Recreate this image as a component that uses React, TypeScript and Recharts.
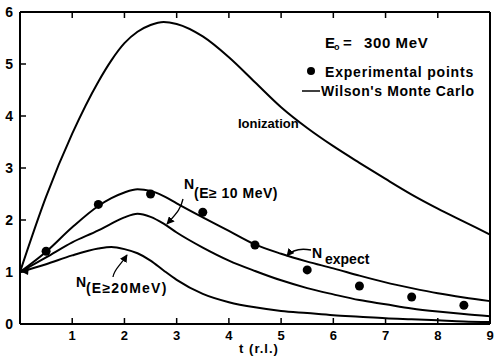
import React from 'react';
import { ComposedChart, Line, Scatter, XAxis, YAxis } from 'recharts';

// depth in radiation lengths
const T = [0, 0.5, 1, 1.5, 1.75, 2, 2.25, 2.5, 2.75, 3, 3.5, 4, 4.5, 5, 5.5, 6, 6.5, 7, 7.5, 8, 8.5, 9];
const IONIZATION = [1, 2.45, 3.66, 4.66, 5.07, 5.4, 5.62, 5.75, 5.81, 5.77, 5.53, 5.13, 4.65, 4.17, 3.77, 3.42, 3.1, 2.79, 2.49, 2.22, 1.97, 1.72];
const N_EXPECT = [1, 1.39, 1.86, 2.27, 2.42, 2.53, 2.59, 2.56, 2.46, 2.32, 2.05, 1.79, 1.53, 1.35, 1.2, 1.07, 0.93, 0.8, 0.69, 0.59, 0.51, 0.44];
const N_10 = [1, 1.28, 1.57, 1.8, 1.93, 2.05, 2.12, 2.06, 1.93, 1.76, 1.47, 1.22, 1.02, 0.84, 0.69, 0.57, 0.46, 0.38, 0.3, 0.24, 0.19, 0.15];
const N_20 = [1, 1.15, 1.32, 1.45, 1.48, 1.44, 1.36, 1.22, 1.03, 0.85, 0.58, 0.42, 0.32, 0.25, 0.21, 0.17, 0.14, 0.11, 0.09, 0.07, 0.05, 0.04];

const POINT_T = [0.5, 1.5, 2.5, 3.5, 4.5, 5.5, 6.5, 7.5, 8.5];
const POINT_N = [1.4, 2.3, 2.5, 2.15, 1.52, 1.04, 0.73, 0.52, 0.36];

const X_TICKS = [0, 1, 2, 3, 4, 5, 6, 7, 8, 9];
const Y_TICKS = [0, 1, 2, 3, 4, 5, 6];

const FONT = '"Liberation Sans", Arial, sans-serif';

const rows = T.map((t, i) => ({ t, ion: IONIZATION[i], nexp: N_EXPECT[i], n10: N_10[i], n20: N_20[i] }));
const points = POINT_T.map((t, i) => ({ t, n: POINT_N[i] }));

const LeftTick = (p: any) => {
    const v = p.payload.value;
    return (
        <g>
            {v > 0 && v < 6 && <line x1={p.x + 8} x2={p.x + 14} y1={p.y} y2={p.y} stroke="#000" strokeWidth={1.5} />}
            <text x={p.x + 1} y={p.y + 5} textAnchor="end" fontFamily={FONT} fontWeight="bold" fontSize={14} fill="#000">
                {v}
            </text>
        </g>
    );
};

const BottomTick = (p: any) => {
    const v = p.payload.value;
    if (v === 0) return <g />;
    return (
        <g>
            {v < 9 && <line x1={p.x} x2={p.x} y1={p.y - 8} y2={p.y - 14} stroke="#000" strokeWidth={1.5} />}
            <text x={p.x} y={p.y + 8} textAnchor="middle" fontFamily={FONT} fontWeight="bold" fontSize={13} fill="#000">
                {v}
            </text>
        </g>
    );
};

const TopTick = (p: any) => {
    const v = p.payload.value;
    if (v === 0 || v === 9) return <g />;
    return <line x1={p.x} x2={p.x} y1={p.y + 8} y2={p.y + 14} stroke="#000" strokeWidth={1.5} />;
};

const RightTick = (p: any) => {
    const v = p.payload.value;
    if (v === 0 || v === 6) return <g />;
    return <line x1={p.x - 8} x2={p.x - 14} y1={p.y} y2={p.y} stroke="#000" strokeWidth={1.5} />;
};

const Dot = (p: any) => <circle cx={p.cx} cy={p.cy} r={4.5} fill="#000" />;

const txt = { fontFamily: FONT, fontWeight: 'bold' as const, fill: '#000' };

const App: React.FC = () => {
    return (
        <div style={{ position: 'absolute', left: 0, top: 0, width: 494, height: 357, background: '#fff' }}>
            <ComposedChart width={494} height={357} data={rows} margin={{ top: 2, right: 0, bottom: 0, left: 0 }}>
                <XAxis dataKey="t" type="number" domain={[0, 9]} ticks={X_TICKS} height={33} tickSize={6} tickMargin={2}
                    axisLine={{ stroke: '#000', strokeWidth: 2 }} tickLine={false} tick={<BottomTick />} interval={0} />
                <XAxis xAxisId="top" orientation="top" dataKey="t" type="number" domain={[0, 9]} ticks={X_TICKS} height={10}
                    tickSize={6} tickMargin={2} axisLine={{ stroke: '#000', strokeWidth: 2 }} tickLine={false} tick={<TopTick />} interval={0} />
                <YAxis type="number" domain={[0, 6]} ticks={Y_TICKS} width={20} tickSize={6} tickMargin={2}
                    axisLine={{ stroke: '#000', strokeWidth: 2 }} tickLine={false} tick={<LeftTick />} interval={0} />
                <YAxis yAxisId="right" orientation="right" type="number" domain={[0, 6]} ticks={Y_TICKS} width={4} tickSize={6} tickMargin={2}
                    axisLine={{ stroke: '#000', strokeWidth: 2 }} tickLine={false} tick={<RightTick />} interval={0} />
                <Line type="monotone" dataKey="ion" stroke="#000" strokeWidth={2} dot={false} isAnimationActive={false} />
                <Line type="monotone" dataKey="nexp" stroke="#000" strokeWidth={2} dot={false} isAnimationActive={false} />
                <Line type="monotone" dataKey="n10" stroke="#000" strokeWidth={2} dot={false} isAnimationActive={false} />
                <Line type="monotone" dataKey="n20" stroke="#000" strokeWidth={2} dot={false} isAnimationActive={false} />
                <Scatter data={points} dataKey="n" shape={<Dot />} isAnimationActive={false} />
            </ComposedChart>
            <svg width={494} height={357} style={{ position: 'absolute', left: 0, top: 0, pointerEvents: 'none' }}>
                <defs>
                    <marker id="arr" viewBox="0 0 10 10" refX="9" refY="5" markerWidth="6" markerHeight="6" orient="auto">
                        <path d="M0,0 L10,5 L0,10 z" fill="#000" />
                    </marker>
                </defs>
                {/* arrowhead where the curves meet at t = 0 */}
                <path d="M20,271 L29,266 L28,275 z" fill="#000" />
                {/* header and legend */}
                <text x={325} y={48} fontSize={15} {...txt}>E</text>
                <text x={334} y={50} fontSize={9} {...txt}>o</text>
                <text x={343} y={48} fontSize={15} {...txt}>=</text>
                <text x={364} y={48} fontSize={15} letterSpacing={0.6} {...txt}>300 MeV</text>
                <circle cx={311} cy={71} r={4} fill="#000" />
                <text x={325} y={77} fontSize={14} letterSpacing={0.8} {...txt}>Experimental points</text>
                <line x1={302} x2={320} y1={91} y2={91} stroke="#000" strokeWidth={1.5} />
                <text x={321} y={96} fontSize={14} letterSpacing={0.6} {...txt}>Wilson's Monte Carlo</text>
                {/* curve labels */}
                <text x={238} y={128} fontSize={13} {...txt}>Ionization</text>
                <text x={184} y={189} fontSize={14} {...txt}>N</text>
                <text x={194} y={198} fontSize={14} letterSpacing={0.5} {...txt}>(E≥ 10 MeV)</text>
                <path d="M183,199 C181,208 178,212 167,224" fill="none" stroke="#000" strokeWidth={1.3} markerEnd="url(#arr)" />
                <text x={312} y={258} fontSize={14} {...txt}>N</text>
                <text x={325} y={264} fontSize={14} {...txt}>expect</text>
                <path d="M311,250 C300,248 292,250 287,256" fill="none" stroke="#000" strokeWidth={1.3} markerEnd="url(#arr)" />
                <text x={76} y={287} fontSize={14} {...txt}>N</text>
                <text x={86} y={293} fontSize={14} letterSpacing={1.2} {...txt}>(E≥20MeV)</text>
                <path d="M113,277 C114,269 120,266 127,255" fill="none" stroke="#000" strokeWidth={1.3} markerEnd="url(#arr)" />
                <text x={259} y={353} fontSize={13} letterSpacing={1} textAnchor="middle" {...txt}>t (r.l.)</text>
            </svg>
        </div>
    );
};

export default App;
